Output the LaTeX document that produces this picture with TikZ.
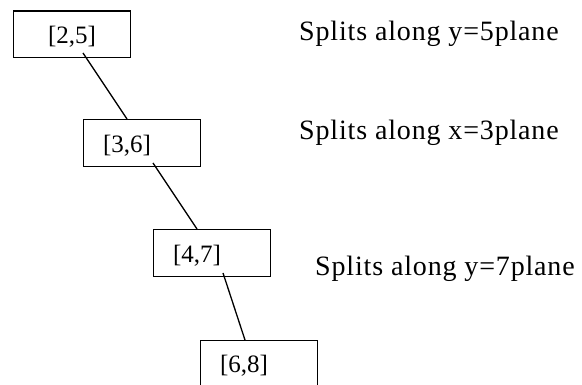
\documentclass[tikz,border=0pt]{standalone}
\usepackage{fontspec}
\setmainfont{Liberation Serif}
\newfontfamily\sidefont[LetterSpace=3]{Liberation Serif}
\begin{document}
\begin{tikzpicture}[x=1pt,y=-1pt,
  boxnode/.style={draw,line width=1.3pt,rectangle,inner sep=0pt,anchor=north west},
  lbl/.style={font=\fontsize{25}{28}\selectfont,inner sep=0pt},
  side/.style={font=\sidefont\fontsize{28}{32}\selectfont,inner sep=0pt,anchor=base west},
  link/.style={line width=1.3pt}]
\useasboundingbox (0,0) rectangle (582,385);
\node[boxnode,minimum width=117.5pt,minimum height=46.5pt] (b1) at (12.5,10.5) {};
\node[boxnode,minimum width=117pt,minimum height=47pt] (b2) at (83,119) {};
\node[boxnode,minimum width=117pt,minimum height=47pt] (b3) at (153,229) {};
\node[boxnode,minimum width=117pt,minimum height=60pt] (b4) at (200,340) {};
\node[lbl] (t1) at (72,37) {[2,5]};
\node[lbl] (t2) at (127,146) {[3,6]};
\node[lbl] (t3) at (197,256) {[4,7]};
\node[lbl] (t4) at (244,366) {[6,8]};
\coordinate (s1) at (83,53);
\coordinate (e1) at (127,119);
\coordinate (s2) at (153,163);
\coordinate (e2) at (197,229);
\coordinate (s3) at (223,273);
\coordinate (e3) at (245,340);
\draw[link] (s1) -- (e1);
\draw[link] (s2) -- (e2);
\draw[link] (s3) -- (e3);
\node[side] (p1) at (299,41) {Splits along y=5plane};
\node[side] (p2) at (299,140) {Splits along x=3plane};
\node[side] (p3) at (315,276) {Splits along y=7plane};
\end{tikzpicture}
\end{document}
